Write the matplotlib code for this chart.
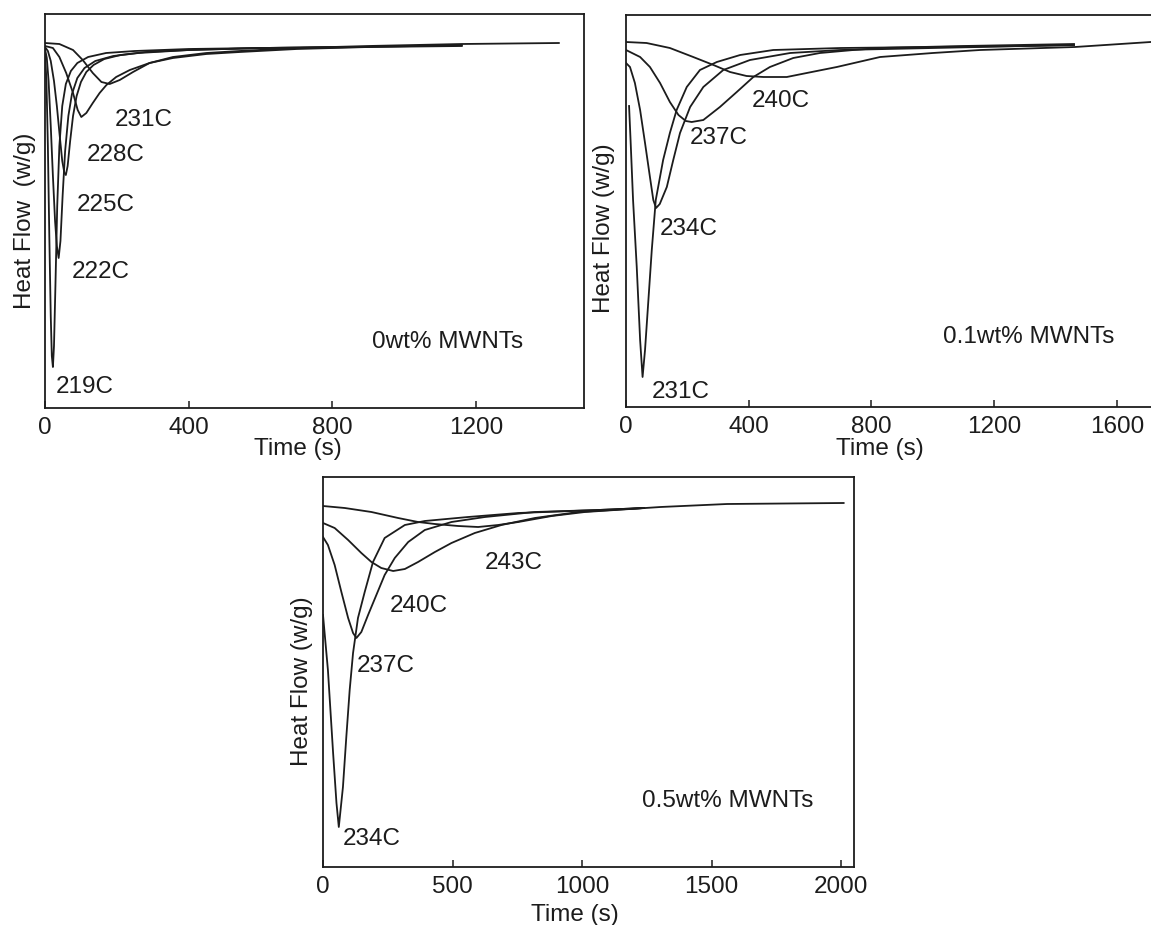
import matplotlib
matplotlib.use('Agg')
import matplotlib.pyplot as plt

plt.rcParams['font.family'] = ['Liberation Sans', 'DejaVu Sans']
plt.rcParams['font.size'] = 17.5

# ---- 0 wt% MWNTs (heat flow in arbitrary units, baseline ~0) ----
t0_219 = [0, 4, 8, 12, 16, 19, 22, 25, 29, 34, 40, 48, 58, 72, 90, 120, 170, 250, 400, 600, 870]
hf0_219 = [-0.06, -0.35, -1.0, -1.9, -2.7, -3.1, -3.21, -3.0, -2.4, -1.6, -1.0, -0.6, -0.38, -0.25,
           -0.17, -0.11, -0.07, -0.05, -0.03, -0.02, -0.01]
t0_222 = [0, 5, 10, 16, 22, 28, 33, 38, 43, 49, 56, 65, 75, 90, 110, 140, 190, 260, 400, 600, 870]
hf0_222 = [-0.03, -0.12, -0.35, -0.8, -1.3, -1.75, -2.0, -2.12, -1.95, -1.5, -1.05, -0.7, -0.48,
           -0.32, -0.22, -0.15, -0.1, -0.07, -0.04, -0.02, -0.01]
t0_225 = [0, 8, 16, 25, 33, 41, 48, 54, 58, 63, 70, 78, 88, 100, 115, 135, 165, 210, 280, 400,
          600, 900, 1160]
hf0_225 = [-0.01, -0.05, -0.15, -0.35, -0.6, -0.9, -1.15, -1.27, -1.29, -1.2, -0.95, -0.7, -0.5,
           -0.36, -0.26, -0.19, -0.13, -0.09, -0.06, -0.04, -0.02, -0.01, 0.0]
t0_228 = [0, 22, 40, 59, 78, 91, 101, 115, 133, 152, 171, 198, 236, 291, 356, 449, 542, 700, 900, 1160]
hf0_228 = [0.0, -0.02, -0.11, -0.27, -0.47, -0.64, -0.71, -0.67, -0.57, -0.47, -0.39, -0.31, -0.24,
           -0.17, -0.12, -0.08, -0.06, -0.03, -0.01, 0.01]
t0_231 = [0, 40, 78, 105, 133, 157, 180, 208, 245, 291, 356, 449, 542, 700, 900, 1160, 1430]
hf0_231 = [0.03, 0.02, -0.04, -0.14, -0.27, -0.36, -0.38, -0.34, -0.26, -0.17, -0.11, -0.07, -0.05,
           -0.02, 0.0, 0.02, 0.03]

# ---- 0.1 wt% MWNTs ----
t1_231 = [10, 15, 23, 35, 46, 54, 62, 73, 84, 97, 121, 143, 165, 198, 241, 296, 372, 480, 700,
          1000, 1300, 1460]
hf1_231 = [-0.6, -0.95, -1.54, -2.21, -2.94, -3.31, -3.04, -2.54, -2.04, -1.54, -1.14, -0.87, -0.64,
           -0.41, -0.24, -0.16, -0.09, -0.04, -0.02, -0.01, 0.0, 0.01]
t1_234 = [0, 13, 29, 46, 62, 78, 89, 98, 110, 133, 154, 176, 209, 252, 317, 404, 535, 698, 1000,
          1300, 1460]
hf1_234 = [-0.17, -0.21, -0.37, -0.64, -0.97, -1.31, -1.54, -1.62, -1.58, -1.41, -1.14, -0.87, -0.61,
           -0.41, -0.24, -0.14, -0.07, -0.04, -0.02, 0.0, 0.01]
t1_237 = [0, 46, 78, 111, 143, 171, 195, 214, 252, 306, 361, 415, 469, 545, 632, 741, 828, 1100,
          1460]
hf1_237 = [-0.04, -0.11, -0.21, -0.37, -0.56, -0.69, -0.75, -0.76, -0.74, -0.61, -0.46, -0.31,
           -0.21, -0.12, -0.07, -0.04, -0.02, 0.0, 0.02]
t1_240 = [0, 67, 143, 219, 285, 339, 393, 448, 524, 589, 687, 828, 1000, 1154, 1463, 1710]
hf1_240 = [0.04, 0.03, -0.02, -0.11, -0.19, -0.26, -0.30, -0.31, -0.31, -0.27, -0.21, -0.11, -0.07,
           -0.04, -0.01, 0.04]

# ---- 0.5 wt% MWNTs ----
t5_234 = [0, 19, 39, 52, 61, 77, 90, 103, 116, 135, 161, 193, 238, 316, 393, 560, 754, 1063, 1240]
hf5_234 = [-1.12, -1.67, -2.5, -3.0, -3.24, -2.84, -2.34, -1.87, -1.5, -1.15, -0.89, -0.59, -0.35,
           -0.22, -0.18, -0.14, -0.1, -0.07, -0.05]
t5_237 = [0, 19, 45, 71, 97, 116, 129, 148, 174, 206, 238, 277, 329, 393, 496, 625, 818, 1063, 1240]
hf5_237 = [-0.34, -0.42, -0.62, -0.89, -1.15, -1.30, -1.35, -1.29, -1.12, -0.92, -0.72, -0.55, -0.39,
           -0.27, -0.19, -0.14, -0.09, -0.07, -0.05]
t5_240 = [0, 45, 97, 148, 187, 225, 271, 316, 367, 432, 496, 586, 689, 818, 986, 1240]
hf5_240 = [-0.20, -0.25, -0.37, -0.50, -0.59, -0.65, -0.68, -0.66, -0.59, -0.49, -0.40, -0.30, -0.22,
           -0.15, -0.09, -0.05]
t5_243 = [0, 84, 187, 290, 367, 432, 522, 599, 676, 754, 883, 1011, 1303, 1560, 2010]
hf5_243 = [-0.03, -0.05, -0.09, -0.15, -0.19, -0.21, -0.23, -0.24, -0.22, -0.19, -0.13, -0.09,
           -0.04, -0.01, 0.0]

W, H = 1151, 925


def px_rect(left, top, right, bottom):
    return [left / W, (H - bottom) / H, (right - left) / W, (bottom - top) / H]


panels = [
    {
        'rect': px_rect(45, 14, 584, 408),
        'xlim': (0, 1500), 'ylim': (-3.62, 0.32),
        'xticks': [0, 400, 800, 1200],
        'curves': [(t0_219, hf0_219), (t0_222, hf0_222), (t0_225, hf0_225),
                   (t0_228, hf0_228), (t0_231, hf0_231)],
        'labels': [('231C', 0.130, 0.731), ('228C', 0.078, 0.642), ('225C', 0.058, 0.515),
                   ('222C', 0.050, 0.345), ('219C', 0.020, 0.053),
                   ('0wt% MWNTs', 0.607, 0.168)],
        'ylabel': 'Heat Flow  (w/g)', 'ylabel_xy': (-0.016, 0.475),
        'xlabel_xy': (0.469, -0.076),
    },
    {
        'rect': px_rect(626, 15, 1163, 407),
        'xlim': (0, 1750), 'ylim': (-3.61, 0.31),
        'xticks': [0, 400, 800, 1200, 1600],
        'curves': [(t1_231, hf1_231), (t1_234, hf1_234), (t1_237, hf1_237), (t1_240, hf1_240)],
        'labels': [('240C', 0.235, 0.781), ('237C', 0.119, 0.686), ('234C', 0.063, 0.454),
                   ('231C', 0.048, 0.038), ('0.1wt% MWNTs', 0.590, 0.179)],
        'ylabel': 'Heat Flow (w/g)', 'ylabel_xy': (-0.020, 0.457),
        'xlabel_xy': (0.473, -0.079),
    },
    {
        'rect': px_rect(323, 477, 854, 867),
        'xlim': (0, 2050), 'ylim': (-3.64, 0.26),
        'xticks': [0, 500, 1000, 1500, 2000],
        'curves': [(t5_234, hf5_234), (t5_237, hf5_237), (t5_240, hf5_240), (t5_243, hf5_243)],
        'labels': [('243C', 0.305, 0.779), ('240C', 0.126, 0.669), ('237C', 0.064, 0.515),
                   ('234C', 0.038, 0.072), ('0.5wt% MWNTs', 0.601, 0.169)],
        'ylabel': 'Heat Flow (w/g)', 'ylabel_xy': (-0.019, 0.477),
        'xlabel_xy': (0.475, -0.094),
    },
]

ink = '#1c1c1c'
fig = plt.figure(figsize=(W / 100, H / 100), dpi=100)

for p in panels:
    ax = fig.add_axes(p['rect'])
    for t, hf in p['curves']:
        ax.plot(t, hf, color=ink, lw=1.3)
    ax.set_xlim(*p['xlim'])
    ax.set_ylim(*p['ylim'])
    ax.set_xticks(p['xticks'])
    ax.set_yticks([])
    ax.tick_params(axis='x', direction='in', length=5, width=1.1, color=ink,
                   pad=6.5, labelsize=17.5, labelcolor=ink)
    for s in ax.spines.values():
        s.set_color(ink)
        s.set_linewidth(1.3)
    for txt, x, y in p['labels']:
        ax.text(x, y, txt, transform=ax.transAxes, ha='left', va='center',
                color=ink, fontsize=17.5)
    ax.set_xlabel('Time (s)', color=ink)
    ax.xaxis.set_label_coords(*p['xlabel_xy'])
    ax.set_ylabel(p['ylabel'], color=ink)
    ax.yaxis.set_label_coords(*p['ylabel_xy'])

fig.savefig('out.png', dpi=100)
